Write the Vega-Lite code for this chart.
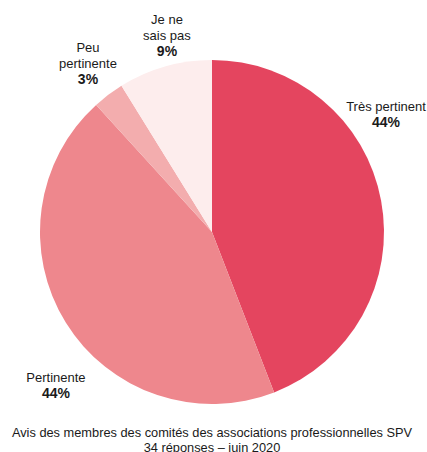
{
  "$schema": "https://vega.github.io/schema/vega-lite/v6.json",
  "width": 424,
  "height": 344,
  "autosize": {"type": "none"},
  "padding": {"left": 0, "top": 60, "right": 3, "bottom": 48},
  "background": "white",
  "config": {"view": {"stroke": null}, "font": "Liberation Sans"},
  "title": {
    "text": ["Avis des membres des comités des associations professionnelles SPV", "34 réponses – juin 2020"],
    "orient": "bottom",
    "anchor": "middle",
    "offset": 23,
    "font": "Liberation Sans",
    "fontSize": 12.8,
    "fontWeight": "normal",
    "color": "#1a1a1a",
    "lineHeight": 15
  },
  "data": {
    "values": [
      {"cat": "Très pertinent", "label": "Très pertinent", "pct": "44%", "n": 15, "order": 1},
      {"cat": "Pertinente", "label": "Pertinente", "pct": "44%", "n": 15, "order": 2},
      {"cat": "Peu pertinente", "label": "Peu\npertinente", "pct": "3%", "n": 1, "order": 3},
      {"cat": "Je ne sais pas", "label": "Je ne\nsais pas", "pct": "9%", "n": 3, "order": 4}
    ]
  },
  "encoding": {
    "theta": {"field": "n", "type": "quantitative", "stack": true},
    "order": {"field": "order", "type": "quantitative"}
  },
  "layer": [
    {
      "mark": {"type": "arc"},
      "encoding": {
        "color": {
          "field": "cat",
          "type": "nominal",
          "scale": {
            "domain": ["Très pertinent", "Pertinente", "Peu pertinente", "Je ne sais pas"],
            "range": ["#e4455f", "#ee878d", "#f3adae", "#fdeded"]
          },
          "legend": null
        }
      }
    },
    {
      "mark": {"type": "text", "radius": 200, "dx": -22.6, "dy": -84, "fontSize": 13, "baseline": "alphabetic", "align": "center", "color": "#1a1a1a"},
      "encoding": {"text": {"condition": {"test": "datum.cat === 'Très pertinent'", "field": "label"}, "value": ""}}
    },
    {
      "mark": {"type": "text", "radius": 200, "dx": -22.6, "dy": -68, "fontSize": 14, "fontWeight": "bold", "baseline": "alphabetic", "align": "center", "color": "#1a1a1a"},
      "encoding": {"text": {"condition": {"test": "datum.cat === 'Très pertinent'", "field": "pct"}, "value": ""}}
    },
    {
      "mark": {"type": "text", "radius": 200, "dx": 14, "dy": 45, "fontSize": 13, "baseline": "alphabetic", "align": "center", "color": "#1a1a1a"},
      "encoding": {"text": {"condition": {"test": "datum.cat === 'Pertinente'", "field": "label"}, "value": ""}}
    },
    {
      "mark": {"type": "text", "radius": 200, "dx": 14, "dy": 61, "fontSize": 14, "fontWeight": "bold", "baseline": "alphabetic", "align": "center", "color": "#1a1a1a"},
      "encoding": {"text": {"condition": {"test": "datum.cat === 'Pertinente'", "field": "pct"}, "value": ""}}
    },
    {
      "mark": {"type": "text", "radius": 200, "dx": -3.5, "dy": -20.4, "fontSize": 13, "lineBreak": "\n", "lineHeight": 16, "baseline": "alphabetic", "align": "center", "color": "#1a1a1a"},
      "encoding": {"text": {"condition": {"test": "datum.cat === 'Peu pertinente'", "field": "label"}, "value": ""}}
    },
    {
      "mark": {"type": "text", "radius": 200, "dx": -3.5, "dy": 11.6, "fontSize": 14, "fontWeight": "bold", "baseline": "alphabetic", "align": "center", "color": "#1a1a1a"},
      "encoding": {"text": {"condition": {"test": "datum.cat === 'Peu pertinente'", "field": "pct"}, "value": ""}}
    },
    {
      "mark": {"type": "text", "radius": 200, "dx": 9.7, "dy": -15.6, "fontSize": 13, "lineBreak": "\n", "lineHeight": 16, "baseline": "alphabetic", "align": "center", "color": "#1a1a1a"},
      "encoding": {"text": {"condition": {"test": "datum.cat === 'Je ne sais pas'", "field": "label"}, "value": ""}}
    },
    {
      "mark": {"type": "text", "radius": 200, "dx": 9.7, "dy": 16.4, "fontSize": 14, "fontWeight": "bold", "baseline": "alphabetic", "align": "center", "color": "#1a1a1a"},
      "encoding": {"text": {"condition": {"test": "datum.cat === 'Je ne sais pas'", "field": "pct"}, "value": ""}}
    }
  ]
}
